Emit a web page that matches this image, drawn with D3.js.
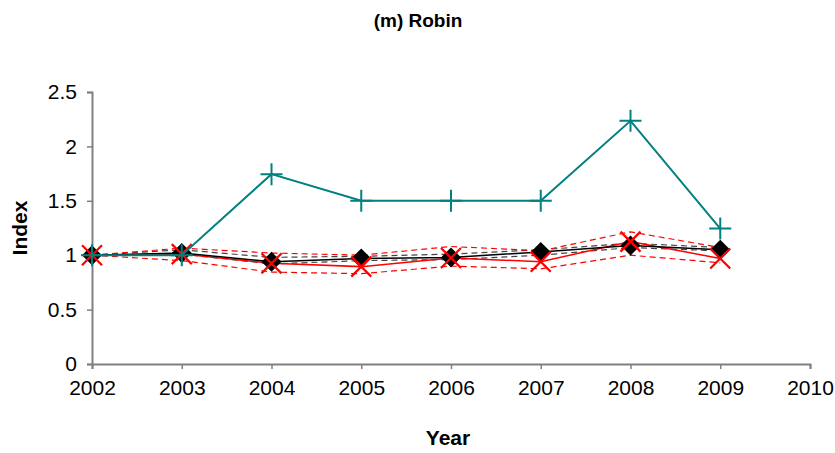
<!DOCTYPE html>
<html>
<head>
<meta charset="utf-8">
<script src="https://cdn.jsdelivr.net/npm/d3@7"></script>
<style>
  body { margin: 0; background: #fff; }
  text { font-family: "Liberation Sans", Arial, sans-serif; }
</style>
</head>
<body>
<div id="chart"></div>
<script>
// data
var years = [2002, 2003, 2004, 2005, 2006, 2007, 2008, 2009];
var xTicks = [2002, 2003, 2004, 2005, 2006, 2007, 2008, 2009, 2010];
var yTicks = [0, 0.5, 1, 1.5, 2, 2.5];

var teal = [1, 1, 1.745, 1.5, 1.5, 1.5, 2.235, 1.245];
var blackMean = [1, 1.02, 0.94, 0.97, 0.98, 1.03, 1.09, 1.05];
var blackUpper = [1, 1.05, 0.98, 0.99, 1.01, 1.05, 1.11, 1.07];
var blackLower = [1, 1.01, 0.92, 0.95, 0.96, 1.0, 1.07, 1.04];
var redMean = [1, 1.01, 0.925, 0.895, 0.975, 0.94, 1.125, 0.97];
var redUpper = [1, 1.065, 1.02, 1.0, 1.08, 1.04, 1.215, 1.07];
var redLower = [1, 0.95, 0.845, 0.83, 0.9, 0.875, 1.0, 0.93];

var W = 835, H = 453;

var svg = d3.select("#chart").append("svg")
  .attr("width", W).attr("height", H);

var x = d3.scaleLinear().domain([2002, 2010]).range([92, 810]);
var y = d3.scaleLinear().domain([0, 2.5]).range([364, 92]);

// axes
var xAxis = svg.append("g")
  .attr("transform", "translate(0,364)")
  .call(d3.axisBottom(x).tickValues(xTicks).tickFormat(d3.format("d")).tickSize(5).tickPadding(11));
var yAxis = svg.append("g")
  .attr("transform", "translate(92,0)")
  .call(d3.axisLeft(y).tickValues(yTicks).tickFormat(function(d){ return d; }).tickSize(5).tickPadding(10));

[xAxis, yAxis].forEach(function(a) {
  a.select(".domain").attr("stroke", "#808080").attr("stroke-width", 2);
  a.selectAll(".tick line").attr("stroke", "#808080").attr("stroke-width", 1.5);
  a.selectAll(".tick text").attr("fill", "#000").style("font-size", "21px");
});

// titles
svg.append("text").attr("x", 418).attr("y", 27).attr("text-anchor", "middle")
  .style("font-size", "19px").style("font-weight", "bold").text("(m) Robin");
svg.append("text").attr("x", 448).attr("y", 445).attr("text-anchor", "middle")
  .style("font-size", "21px").style("font-weight", "bold").text("Year");
svg.append("text").attr("transform", "translate(27,228) rotate(-90)").attr("text-anchor", "middle")
  .style("font-size", "21px").style("font-weight", "bold").text("Index");

var line = function(vals) {
  return d3.line().x(function(d, i) { return x(years[i]); }).y(function(d) { return y(d); })(vals);
};

// dashed limits
[[blackUpper, "#444"], [blackLower, "#444"], [redUpper, "#ff0000"], [redLower, "#ff0000"]].forEach(function(s) {
  svg.append("path").attr("d", line(s[0])).attr("fill", "none")
    .attr("stroke", s[1]).attr("stroke-width", 1.2).attr("stroke-dasharray", "6,4");
});

// solid lines
svg.append("path").attr("d", line(redMean)).attr("fill", "none").attr("stroke", "#ff0000").attr("stroke-width", 1.5);
svg.append("path").attr("d", line(blackMean)).attr("fill", "none").attr("stroke", "#000").attr("stroke-width", 1.5);

// diamonds
svg.append("g").selectAll("path").data(blackMean).enter().append("path")
  .attr("transform", function(d, i) { return "translate(" + x(years[i]) + "," + y(d) + ")"; })
  .attr("d", "M0,-10L10,0L0,10L-10,0Z").attr("fill", "#000");

// crosses
svg.append("g").selectAll("path").data(redMean).enter().append("path")
  .attr("transform", function(d, i) { return "translate(" + x(years[i]) + "," + y(d) + ")"; })
  .attr("d", "M-10,-10L10,10M10,-10L-10,10").attr("stroke", "#ff0000").attr("stroke-width", 2.2).attr("fill", "none");

// teal series
svg.append("path").attr("d", line(teal)).attr("fill", "none").attr("stroke", "#008080").attr("stroke-width", 2);
svg.append("g").selectAll("path").data(teal).enter().append("path")
  .attr("transform", function(d, i) { return "translate(" + x(years[i]) + "," + y(d) + ")"; })
  .attr("d", "M-11,0L11,0M0,-11L0,11").attr("stroke", "#008080").attr("stroke-width", 2).attr("fill", "none");
</script>
</body>
</html>
